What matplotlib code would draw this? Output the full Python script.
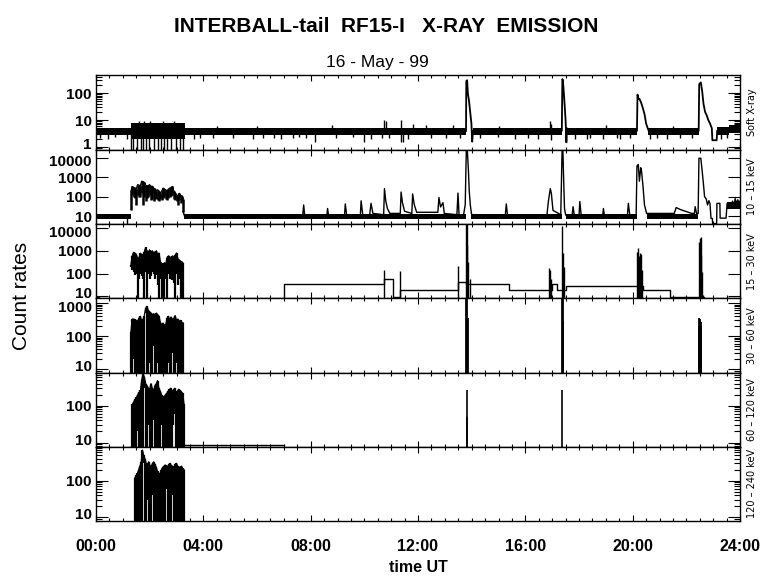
import numpy as np
import matplotlib
matplotlib.use("Agg")
import matplotlib.pyplot as plt
import matplotlib.transforms as mtransforms
from matplotlib.ticker import FixedLocator, NullFormatter, FuncFormatter, LogLocator

plt.rcParams['font.family'] = ['Liberation Sans', 'DejaVu Sans']

# ----------------------------- data -----------------------------
title = "INTERBALL-tail  RF15-I   X-RAY  EMISSION"
date_label = "16 - May - 99"
x_label = "time UT"
y_label = "Count rates"
hour_ticks = [0, 4, 8, 12, 16, 20, 24]
hour_labels = ["00:00", "04:00", "08:00", "12:00", "16:00", "20:00", "24:00"]
channel_names = ["Soft X-ray", "10 \u2013 15 keV", "15 \u2013 30 keV",
                 "30 \u2013 60 keV", "60 \u2013 120 keV", "120 \u2013 240 keV"]
y_limits = [(0.8, 450), (4.0, 26000), (8.2, 15000), (8.0, 1400), (7.7, 800), (7.9, 850)]
y_ticks = [[1, 10, 100], [10, 100, 1000, 10000], [10, 100, 1000, 10000],
           [10, 100, 1000], [10, 100], [10, 100]]

# --- Soft X-ray: noisy background band segments
sx_band_start = [0.00, 1.29, 3.30, 14.05, 17.56, 20.58, 23.13, 23.60]
sx_band_end   = [1.29, 3.30, 13.79, 17.37, 20.17, 22.47, 23.60, 24.00]
sx_band_lo    = [2.7, 2.0, 2.7, 2.7, 2.7, 2.7, 2.9, 3.4]
sx_band_hi    = [5.2, 8.0, 5.3, 5.3, 5.3, 5.3, 5.6, 6.5]
# single spikes out of the band
sx_spike_t = [0.15, 0.46, 0.71, 1.14, 3.65, 3.88, 4.37, 5.12, 5.86, 6.21, 6.65, 6.90, 7.35,
              7.58, 7.83, 8.17, 8.95, 9.57, 10.00, 10.25, 10.65, 10.93, 11.37, 11.45, 11.62,
              12.50, 13.06, 13.55, 14.30, 14.98, 15.60, 16.10, 16.47, 16.95, 17.84, 18.29,
              18.41, 18.91, 19.41, 19.53, 19.90, 20.65, 20.90, 21.27, 21.77, 22.20, 23.30, 23.50,
              8.80, 10.75, 10.80, 11.38, 11.80, 16.91, 16.97, 4.50, 6.00, 12.30, 13.30, 15.00,
              19.00, 21.50, 23.90,
              1.32, 1.39, 1.54, 1.66, 1.76, 1.85, 1.97, 2.16, 2.31, 2.41, 2.53, 2.66, 2.81,
              2.97, 3.13, 3.25, 1.60, 1.80, 2.00, 2.50, 2.90]
sx_spike_v = [2.2, 2.0, 2.3, 2.0, 2.0, 2.1, 2.2, 2.1, 2.0, 2.2, 2.2, 2.0, 2.2,
              2.3, 2.2, 1.5, 2.2, 2.3, 1.5, 2.0, 2.1, 2.1, 1.5, 1.6, 2.0,
              2.2, 2.1, 2.2, 2.2, 2.3, 2.0, 2.2, 2.0, 1.9, 2.0, 2.0,
              2.2, 2.0, 2.2, 2.0, 2.2, 2.0, 2.2, 2.0, 2.1, 2.2, 2.0, 2.2,
              6.6, 10.0, 9.0, 10.0, 7.5, 9.0, 7.0, 6.2, 6.0, 6.5, 6.5, 6.3,
              6.5, 6.3, 8.0,
              0.5, 0.5, 0.5, 0.5, 0.5, 0.5, 0.5, 0.5, 0.5, 0.5, 0.5, 0.5, 0.5,
              0.5, 0.5, 0.5, 9.5, 9.5, 9.0, 9.5, 9.0]
# flare profiles
sx_flare_t = [13.79, 13.80, 13.83, 13.86, 13.90, 13.95, 13.99, 14.02, 14.05,
              17.36, 17.38, 17.40, 17.43, 17.47, 17.50, 17.53, 17.55, 17.57,
              20.16, 20.18, 20.22, 20.25, 20.31, 20.37, 20.44, 20.50, 20.56, 20.60,
              22.46, 22.48, 22.54, 22.59, 22.64, 22.70, 22.76, 22.82, 22.88, 22.95,
              22.97, 23.13, 23.15]
sx_flare_v = [4.0, 280, 300, 95, 53, 18, 7.6, 1.6, 4.0,
              4.0, 330, 300, 120, 30, 10, 1.5, 5.0, 4.0,
              4.0, 88, 60, 62, 46, 30, 17, 7.6, 5.0, 4.0,
              4.0, 216, 250, 120, 40, 20, 15, 10, 7.6, 5.0,
              1.8, 1.8, 4.0]

# --- 10-15 keV
c1_band_start = [0.00, 3.27, 13.98, 17.50, 20.52, 23.50]
c1_band_end   = [1.29, 13.78, 17.36, 20.15, 22.45, 24.00]
c1_band_lo    = [7.0, 7.0, 7.0, 7.0, 7.0, 24]
c1_band_hi    = [13, 13, 13, 13, 13, 55]
c1_block_span = (1.30, 3.25)
c1_block_hi = [190, 340, 300, 280, 250, 420, 400, 350, 630, 600, 550, 400, 350, 380, 420, 300,
               350, 280, 250, 200, 230, 180, 160, 200, 280, 250, 230, 190, 250, 280, 300, 340,
               200, 160, 130, 110, 150, 120, 110, 80]
c1_block_lo = [20, 120, 100, 90, 38, 120, 100, 100, 150, 38, 100, 60, 90, 100, 120, 70,
               80, 60, 90, 80, 70, 60, 80, 70, 90, 100, 80, 70, 90, 100, 110, 120,
               80, 70, 60, 38, 70, 50, 60, 17]
c1_dip_t = [1.17]
c1_line_t = [3.25, 3.30, 7.70, 7.74, 7.78, 8.60, 8.63, 8.67, 9.26, 9.29, 9.34, 9.85, 9.88, 9.94,
             10.20, 10.25, 10.32, 10.72, 10.75, 10.80, 10.86, 10.95, 11.34, 11.37, 11.42, 11.50,
             11.77, 11.80, 11.86, 11.95, 12.74, 12.78, 12.84, 12.93, 12.98, 13.45, 13.49, 13.53,
             13.70, 13.76, 13.80, 13.84, 13.88, 13.91, 13.95, 13.99, 14.05, 15.25, 15.29, 15.34,
             16.80, 16.86, 16.93, 16.97, 17.03, 17.32, 17.37, 17.40, 17.43, 17.46, 17.50,
             17.55, 17.74, 17.78, 17.83, 18.00, 18.03, 18.08, 18.88, 18.91, 18.95, 19.80, 19.84,
             19.89, 20.13, 20.16, 20.21, 20.25, 20.30, 20.33, 20.38, 20.44, 20.52, 21.55, 21.62,
             21.78, 22.20, 22.30, 22.33, 22.38, 22.44, 22.47, 22.54, 22.59, 22.64, 22.68, 22.74,
             22.79, 22.84, 22.88, 22.92, 22.97, 22.98, 23.13, 23.14, 23.25, 23.26, 23.48,
             23.52, 23.57, 23.62, 23.67, 23.72, 23.77, 23.82, 23.87, 23.92, 23.97, 24.00]
c1_line_v = [17, 10, 10, 38, 10, 10, 25, 10, 10, 43, 12, 10, 62, 12,
             12, 46, 14, 12, 260, 60, 25, 14, 14, 175, 50, 18,
             14, 140, 40, 16, 16, 92, 30, 50, 14, 12, 155, 12,
             12, 40, 25000, 22000, 2100, 190, 38, 14, 10, 10, 43, 10,
             10, 60, 260, 150, 20, 12, 25000, 22000, 630, 25, 12,
             10, 10, 31, 10, 10, 57, 12, 10, 25, 10, 10, 46,
             12, 12, 3800, 4600, 630, 3100, 2100, 420, 38, 14, 14, 28,
             22, 14, 14, 31, 14, 14, 9500, 9500, 2100, 420, 100, 79,
             38, 63, 46, 7.7, 7.7, 4.2, 4.2, 46, 46, 8, 8,
             46, 25, 40, 30, 60, 35, 80, 45, 70, 40, 60]

# --- 15-30 keV
c2_block_span = (1.30, 3.25)
c2_block_hi = [236, 600, 850, 780, 700, 465, 500, 780, 700, 650, 900, 1400, 1000, 900, 1100, 850,
               1000, 800, 900, 1000, 700, 800, 330, 280, 240, 300, 260, 500, 600, 550, 450, 600,
               500, 650, 800, 450, 400, 350, 330, 280]
c2_block_lo = [200, 150, 120, 90, 100, 1, 60, 100, 80, 60, 1, 120, 1, 100, 60, 80,
               120, 100, 60, 90, 30, 1, 60, 1, 30, 1, 60, 1, 100, 60, 80, 50,
               40, 1, 100, 30, 60, 1, 30, 1]
c2_step_t = [0.00, 0.10, 7.02, 10.75, 11.08, 11.33, 13.50, 13.78, 15.40, 16.98, 17.17, 17.50,
             20.40, 21.40, 22.65, 24.00]
c2_step_v = [9.0, 1.0, 36, 55, 9.0, 18, 43, 36, 18, 36, 18, 28, 18, 9.0, 1.0, 1.0]
c2_spike_t = [10.75, 11.33, 13.50, 13.79, 13.81, 13.84, 13.87, 13.92, 16.88, 16.92, 16.95,
              17.38, 17.40, 17.43, 20.17, 20.20, 20.23, 20.26, 20.29, 20.32, 20.36,
              22.47, 22.50, 22.53, 22.56, 22.59, 22.62]
c2_spike_v = [140, 128, 210, 20000, 20000, 1800, 330, 60, 170, 150, 60,
              12000, 780, 200, 900, 1300, 600, 780, 500, 700, 150,
              2500, 3800, 4200, 650, 120, 11]

# --- 30-60 keV
c3_block_span = (1.30, 3.25)
c3_block_hi = [130, 330, 330, 320, 300, 280, 350, 400, 300, 320, 420, 700, 800, 600, 550, 500,
               450, 480, 420, 500, 450, 400, 260, 220, 250, 210, 230, 350, 400, 300, 380, 320,
               350, 420, 300, 330, 280, 300, 260, 250]
c3_block_lo = [1, 1, 20, 1, 1, 1, 16, 1, 1, 30, 1, 500, 1, 1, 16, 1,
               1, 50, 1, 1, 16, 1, 1, 1, 16, 1, 1, 1, 16, 1, 1, 30,
               1, 1, 16, 1, 1, 1, 1, 1]
c3_spike_t = [13.80, 13.82, 13.85, 17.37, 17.39, 17.41, 22.47, 22.49, 22.51, 22.53, 22.55]
c3_spike_v = [3000, 3000, 365, 3000, 3000, 290, 200, 365, 330, 260, 200]

# --- 60-120 keV
c4_block_span = (1.36, 3.28)
c4_block_hi = [110, 130, 150, 170, 200, 230, 260, 500, 760, 600, 400, 350, 300, 280, 400, 300,
               250, 350, 400, 480, 300, 250, 200, 170, 180, 200, 220, 250, 280, 300, 250, 270,
               300, 230, 250, 280, 260, 240, 220, 110]
c4_block_lo = [1, 1, 1, 1, 20, 1, 1, 1, 1, 300, 1, 1, 30, 1, 1, 1,
               40, 1, 1, 1, 1, 1, 30, 1, 1, 1, 1, 40, 1, 1, 1, 30,
               60, 1, 1, 1, 40, 1, 1, 1]
c4_step_t = [3.28, 7.02]
c4_step_v = [8.5, 8.5]
c4_spike_t = [13.81, 13.84, 17.38]
c4_spike_v = [270, 50, 270]

# --- 120-240 keV
c5_block_span = (1.45, 3.28)
c5_block_hi = [120, 140, 160, 200, 250, 330, 690, 500, 400, 300, 280, 330, 260, 250, 300, 330,
               280, 230, 180, 150, 160, 200, 230, 250, 270, 260, 240, 280, 300, 260, 250, 230,
               280, 300, 250, 240, 230, 250, 220, 200]
c5_block_lo = [1, 1, 1, 1, 1, 20, 1, 300, 1, 1, 30, 1, 1, 1, 40, 1,
               1, 1, 1, 1, 30, 1, 1, 1, 1, 60, 1, 1, 1, 1, 40, 1,
               1, 1, 1, 1, 50, 1, 1, 1]

# ----------------------------- figure -----------------------------
W, H = 780, 579
fig = plt.figure(figsize=(W / 100, H / 100), dpi=100)
top_px, bot_px, left_px, right_px = 75.5, 521.0, 96.0, 740.0
ph = (bot_px - top_px) / 6
axes = []
for i in range(6):
    y0 = 1 - (top_px + (i + 1) * ph) / H
    ax = fig.add_axes([left_px / W, y0, (right_px - left_px) / W, ph / H])
    axes.append(ax)

K = 'black'


def draw_band(ax, starts, ends, lo, hi):
    for s, e, l, h in zip(starts, ends, lo, hi):
        ax.fill_between([s, e], [l, l], [h, h], color=K, lw=0)


def draw_block(ax, span, hi, lo, lw=1.6):
    t = np.linspace(span[0], span[1], len(hi))
    ax.vlines(t, lo, hi, color=K, lw=lw)
    ax.plot(t, hi, color=K, lw=0.9)


def draw_spikes(ax, t, v, base, lw=1.0):
    v = np.asarray(v, float)
    ax.vlines(t, np.minimum(v, base), np.maximum(v, base), color=K, lw=lw)


# panel 1
a = axes[0]
draw_band(a, sx_band_start, sx_band_end, sx_band_lo, sx_band_hi)
draw_spikes(a, sx_spike_t, sx_spike_v, 3.6)
a.plot(sx_flare_t, sx_flare_v, color=K, lw=1.3)

# panel 2
a = axes[1]
draw_band(a, c1_band_start, c1_band_end, c1_band_lo, c1_band_hi)
draw_block(a, c1_block_span, c1_block_hi, c1_block_lo, lw=1.8)
draw_spikes(a, c1_dip_t, [1.0], 10)
a.plot(c1_line_t, c1_line_v, color=K, lw=1.0)

# panel 3
a = axes[2]
draw_block(a, c2_block_span, c2_block_hi, c2_block_lo)
a.plot(c2_step_t, c2_step_v, drawstyle='steps-post', color=K, lw=1.0)
draw_spikes(a, c2_spike_t, c2_spike_v, 1.0)

# panel 4
a = axes[3]
draw_block(a, c3_block_span, c3_block_hi, c3_block_lo)
draw_spikes(a, c3_spike_t, c3_spike_v, 1.0, lw=1.3)

# panel 5
a = axes[4]
draw_block(a, c4_block_span, c4_block_hi, c4_block_lo)
a.plot(c4_step_t, c4_step_v, color=K, lw=1.0)
draw_spikes(a, c4_spike_t, c4_spike_v, 1.0, lw=1.2)

# panel 6
a = axes[5]
draw_block(a, c5_block_span, c5_block_hi, c5_block_lo)

tick_font = dict(family='Liberation Sans', weight='bold', size=11)
for i, ax in enumerate(axes):
    ax.set_xlim(0, 24)
    ax.set_yscale('log')
    ax.set_ylim(*y_limits[i])
    ax.xaxis.set_major_locator(FixedLocator(hour_ticks))
    ax.xaxis.set_minor_locator(FixedLocator(np.arange(0, 24.01, 0.5)))
    ax.yaxis.set_major_locator(FixedLocator(y_ticks[i]))
    ax.yaxis.set_minor_locator(LogLocator(base=10, subs=np.arange(2, 10)))
    ax.yaxis.set_major_formatter(FuncFormatter(lambda v, p: f"{v:g}"))
    ax.yaxis.set_minor_formatter(NullFormatter())
    ax.tick_params(axis='x', which='both', direction='in', top=True, bottom=True, width=0.8)
    ax.tick_params(axis='x', which='major', length=4.2, pad=13)
    ax.tick_params(axis='x', which='minor', length=2.3)
    ax.tick_params(axis='y', which='both', direction='in', left=True, right=True, width=0.8)
    ax.tick_params(axis='y', which='major', length=8.5, pad=3)
    ax.tick_params(axis='y', which='minor', length=4.0)
    ax.tick_params(labelbottom=(i == 5))
    lo_lim, hi_lim = np.log10(y_limits[i][0]), np.log10(y_limits[i][1])
    for tv, lab in zip(y_ticks[i], ax.get_yticklabels()):
        lab.set_fontproperties(tick_font)
        frac = (np.log10(tv) - lo_lim) / (hi_lim - lo_lim)
        if frac < 0.1:
            lab.set_transform(lab.get_transform() +
                              mtransforms.ScaledTranslation(0, 3.5 / 100, fig.dpi_scale_trans))
        elif frac > 0.85:
            lab.set_transform(lab.get_transform() +
                              mtransforms.ScaledTranslation(0, -3.0 / 100, fig.dpi_scale_trans))
    if i == 5:
        ax.set_xticklabels(hour_labels)
        for lab in ax.get_xticklabels():
            lab.set_fontproperties(dict(family='Liberation Sans', weight='bold', size=11.5))
    for s in ax.spines.values():
        s.set_linewidth(1.0)
    ax.text(1.0186, 0.5, channel_names[i], transform=ax.transAxes, rotation=90,
            ha='center', va='center', fontsize=7, family='DejaVu Sans')

fig.text(386 / W, 1 - 27 / H, title, ha='center', va='center', fontsize=15,
         weight='bold', family='Liberation Sans')
fig.text(377 / W, 1 - 62 / H, date_label, ha='center', va='center', fontsize=12.5,
         family='Liberation Sans')
fig.text(22 / W, 1 - 296 / H, y_label, ha='center', va='center', rotation=90,
         fontsize=15, family='Liberation Sans')
fig.text(418 / W, 1 - 567 / H, x_label, ha='center', va='center', fontsize=11.5,
         weight='bold', family='Liberation Sans')

fig.savefig("out.png", dpi=100)
